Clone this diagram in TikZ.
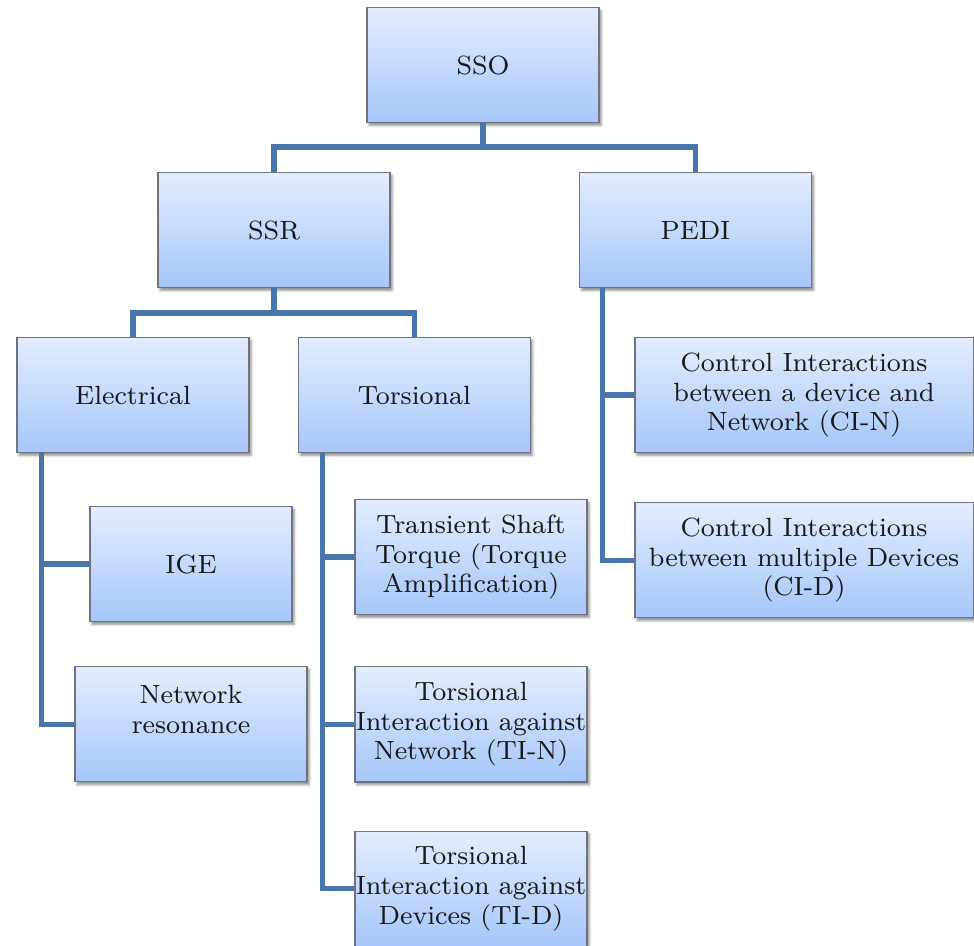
\documentclass[tikz,border=0pt]{standalone}
\usepackage{tikz}
\usetikzlibrary{positioning}
\usetikzlibrary{calc}
\usetikzlibrary{shadows.blur}
\definecolor{boxtop}{RGB}{228,237,253}
\definecolor{boxbot}{RGB}{166,198,251}
\definecolor{boxline}{RGB}{110,115,125}
\definecolor{linkblue}{RGB}{72,117,170}

\begin{document}
\begin{tikzpicture}[x=0.01cm, y=-0.01cm,
    box/.style={draw=boxline, line width=0.35pt, rectangle, top color=boxtop, bottom color=boxbot,
        minimum width=2.32cm, minimum height=1.15cm, inner sep=0pt, align=center,
        font=\fontsize{7.5}{8.4}\selectfont, text=black!90,
        blur shadow={shadow xshift=0.6pt, shadow yshift=-0.8pt, shadow blur radius=0.7pt, shadow opacity=45}},
    link/.style={draw=linkblue, line width=1.45pt}]
        \useasboundingbox (0,0) rectangle (974,945);

        \node[box] (sso) at (483,65) {SSO};
        \node[box] (ssr) at (274,230) {SSR};
        \node[box, right = 1.88cm of ssr] (pedi) {PEDI};

        \node[box] (elec) at (133,395) {Electrical};
        \node[box, right = 0.48cm of elec] (tors) {Torsional};

        \node[box, minimum width=2.02cm] (ige) at (191,564) {IGE};
        \node[box, below = 0.44cm of ige] (netres) {Network\\resonance\\\mbox{}};

        \node[box] (tst) at (471,557) {Transient Shaft\\Torque (Torque\\Amplification)};
        \node[box, below = 0.51cm of tst] (tin) {Torsional\\Interaction against\\Network (TI-N)};
        \node[box, below = 0.48cm of tin] (tid) {Torsional\\Interaction against\\Devices (TI-D)};

        \node[box, minimum width=3.38cm] (cin) at (804,395) {Control Interactions\\between a device and\\Network (CI-N)};
        \node[box, minimum width=3.38cm, below = 0.49cm of cin] (cid) {Control Interactions\\between multiple Devices\\(CI-D)};

        \coordinate (j1) at (483,147);
        \coordinate (j2) at (274,313);

        \draw[link] (sso) -- (j1);
        \draw[link] (ssr.north) |- (j1) -| (pedi.north);
        \draw[link] (ssr) -- (j2);
        \draw[link] (elec.north) |- (j2) -| (tors.north);

        \draw[link] ([xshift=0.25cm]elec.south west) |- (ige);
        \draw[link] ([xshift=0.25cm]elec.south west) |- (netres);

        \draw[link] ([xshift=0.25cm]tors.south west) |- (tst);
        \draw[link] ([xshift=0.25cm]tors.south west) |- (tin);
        \draw[link] ([xshift=0.25cm]tors.south west) |- (tid);

        \draw[link] ([xshift=0.24cm]pedi.south west) |- (cin);
        \draw[link] ([xshift=0.24cm]pedi.south west) |- (cid);
    \end{tikzpicture}
\end{document}
